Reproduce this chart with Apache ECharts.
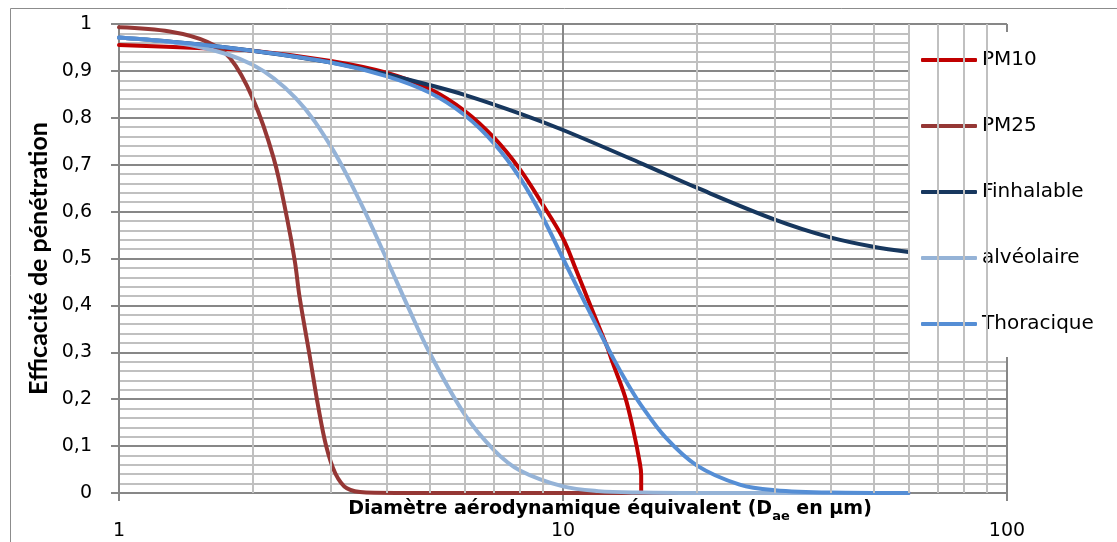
<!DOCTYPE html>
<html>
<head>
<meta charset="utf-8">
<script src="https://cdn.jsdelivr.net/npm/echarts@6/dist/echarts.min.js"></script>
<style>
html,body{margin:0;padding:0;background:#fff;}
#c{width:1117px;height:542px;}
</style>
</head>
<body>
<div id="c"></div>
<script>
// ---- data ----
const seriesNames = ['PM10', 'PM25', 'Finhalable', 'alvéolaire', 'Thoracique'];

const pm10D = [1, 1.5, 2, 3, 4, 5, 6, 7, 8, 9, 10, 10.7, 11.4, 12.1, 12.6, 12.95, 13.8, 14.4, 14.9, 15.0, 15.0];
const pm10E = [0.955, 0.949, 0.943, 0.921, 0.896, 0.862, 0.815, 0.757, 0.690, 0.615, 0.543, 0.476, 0.411, 0.350, 0.309, 0.277, 0.205, 0.134, 0.063, 0.038, 0];

const pm25D = [1, 1.3, 1.58, 1.78, 2.0, 2.23, 2.39, 2.49, 2.55, 2.69, 2.81, 2.93, 3.07, 3.26, 3.6, 4.5, 60];
const pm25E = [0.993, 0.984, 0.962, 0.927, 0.842, 0.714, 0.586, 0.493, 0.419, 0.291, 0.184, 0.099, 0.042, 0.010, 0.001, 0, 0];

const inhD = [1, 1.5, 2, 3, 4, 5, 6, 8, 10, 15, 20, 30, 40, 50, 60];
const inhE = [0.971, 0.957, 0.943, 0.918, 0.893, 0.870, 0.849, 0.809, 0.774, 0.703, 0.651, 0.583, 0.545, 0.525, 0.514];

const alvD = [1, 1.5, 2, 2.5, 3, 3.5, 4, 4.5, 5, 6, 7, 8, 10, 12, 15, 20, 60];
const alvE = [0.971, 0.952, 0.913, 0.842, 0.739, 0.619, 0.500, 0.392, 0.300, 0.168, 0.091, 0.048, 0.014, 0.004, 0.001, 0, 0];

const thoD = [1, 1.5, 2, 3, 4, 5, 6, 7, 8, 9, 10, 11, 12, 13, 14, 15, 17, 20, 25, 30, 40, 60];
const thoE = [0.971, 0.957, 0.943, 0.918, 0.889, 0.854, 0.806, 0.745, 0.672, 0.588, 0.500, 0.421, 0.350, 0.286, 0.232, 0.187, 0.119, 0.059, 0.018, 0.006, 0.001, 0];

const yTickLabels = ['0', '0,1', '0,2', '0,3', '0,4', '0,5', '0,6', '0,7', '0,8', '0,9', '1'];
const xTickLabels = {1: '1', 10: '10', 100: '100'};
const xMinorGrid = [2, 3, 4, 5, 6, 7, 8, 9, 20, 30, 40, 50, 60, 70, 80, 90];

// ---- chart ----
const FONT = '"DejaVu Sans", sans-serif';
const YFONT = 'Lato, "Open Sans", sans-serif';
const colors = ['#C00000', '#953735', '#17375E', '#95B3D7', '#558ED5'];
const xs = [pm10D, pm25D, inhD, alvD, thoD];
const ys = [pm10E, pm25E, inhE, alvE, thoE];

const zip = (a, b) => a.map((v, i) => [v, b[i]]);

const dataSeries = seriesNames.map((name, i) => ({
  name: name,
  type: 'line',
  data: zip(xs[i], ys[i]),
  symbol: 'none',
  showSymbol: false,
  smooth: 0.35,
  z: 3,
  lineStyle: {color: colors[i], width: 4, cap: 'round', join: 'round'},
  itemStyle: {color: colors[i]},
  emphasis: {disabled: true},
  animation: false
}));

const gridSeries = {
  name: '_grid',
  type: 'line',
  data: [[1, 0]],
  symbol: 'none',
  lineStyle: {opacity: 0},
  z: 1,
  silent: true,
  animation: false,
  markLine: {
    silent: true,
    symbol: ['none', 'none'],
    label: {show: false},
    animation: false,
    lineStyle: {color: '#C0C0C0', width: 2, type: 'solid'},
    emphasis: {disabled: true},
    data: xMinorGrid.map(v => ({xAxis: v}))
  }
};

const chart = echarts.init(document.getElementById('c'));
chart.setOption({
  animation: false,
  backgroundColor: '#fff',
  textStyle: {fontFamily: FONT},
  grid: {left: 119, right: 110, top: 24, bottom: 49, containLabel: false, outerBoundsMode: 'none'},
  graphic: [{
    type: 'rect', silent: true, z: -10,
    shape: {x: 10.5, y: 8.5, width: 1300, height: 700},
    style: {fill: 'none', stroke: '#8C8C8C', lineWidth: 1}
  }],
  legend: {
    data: seriesNames,
    orient: 'vertical',
    left: 908,
    top: 32,
    padding: [17, 120, 22, 13],
    backgroundColor: '#fff',
    icon: 'roundRect',
    itemWidth: 56,
    itemHeight: 4,
    itemGap: 44,
    selectedMode: false,
    textStyle: {fontFamily: FONT, fontSize: 20, color: '#000', lineHeight: 22}
  },
  xAxis: {
    type: 'log',
    logBase: 10,
    min: 1,
    max: 100,
    name: 'Diamètre aérodynamique équivalent (D{sub|ae} en µm)',
    nameLocation: 'middle',
    nameGap: 2,
    nameMoveOverlap: false,
    nameTextStyle: {
      fontFamily: FONT, fontSize: 19, fontWeight: 'bold', color: '#000',
      lineHeight: 28, padding: [0, 0, 0, 94],
      rich: {sub: {fontFamily: FONT, fontSize: 13, fontWeight: 'bold', color: '#000', lineHeight: 10, verticalAlign: 'bottom'}}
    },
    axisLine: {show: true, lineStyle: {color: '#878787', width: 2}},
    axisTick: {show: true, length: 8, lineStyle: {color: '#878787', width: 2}},
    axisLabel: {
      margin: 29, fontSize: 19, color: '#000', fontFamily: FONT,
      formatter: v => xTickLabels[Math.round(v)] || ''
    },
    splitLine: {show: true, lineStyle: {color: '#878787', width: 2}},
    minorTick: {show: false},
    minorSplitLine: {show: false}
  },
  yAxis: {
    type: 'value',
    min: 0,
    max: 1,
    interval: 0.1,
    name: 'Efficacité de pénétration',
    nameLocation: 'middle',
    nameGap: 68,
    nameMoveOverlap: false,
    nameTextStyle: {fontFamily: YFONT, fontSize: 25, fontWeight: 'bold', color: '#000'},
    axisLine: {show: true, lineStyle: {color: '#878787', width: 2}},
    axisTick: {show: true, length: 8, lineStyle: {color: '#878787', width: 2}},
    axisLabel: {
      margin: 27, fontSize: 19, color: '#000', fontFamily: FONT,
      formatter: v => yTickLabels[Math.round(v * 10)]
    },
    splitLine: {show: true, lineStyle: {color: '#878787', width: 2}},
    minorTick: {show: false, splitNumber: 5},
    minorSplitLine: {show: true, lineStyle: {color: '#C0C0C0', width: 2}}
  },
  series: [gridSeries].concat(dataSeries)
});
</script>
</body>
</html>
